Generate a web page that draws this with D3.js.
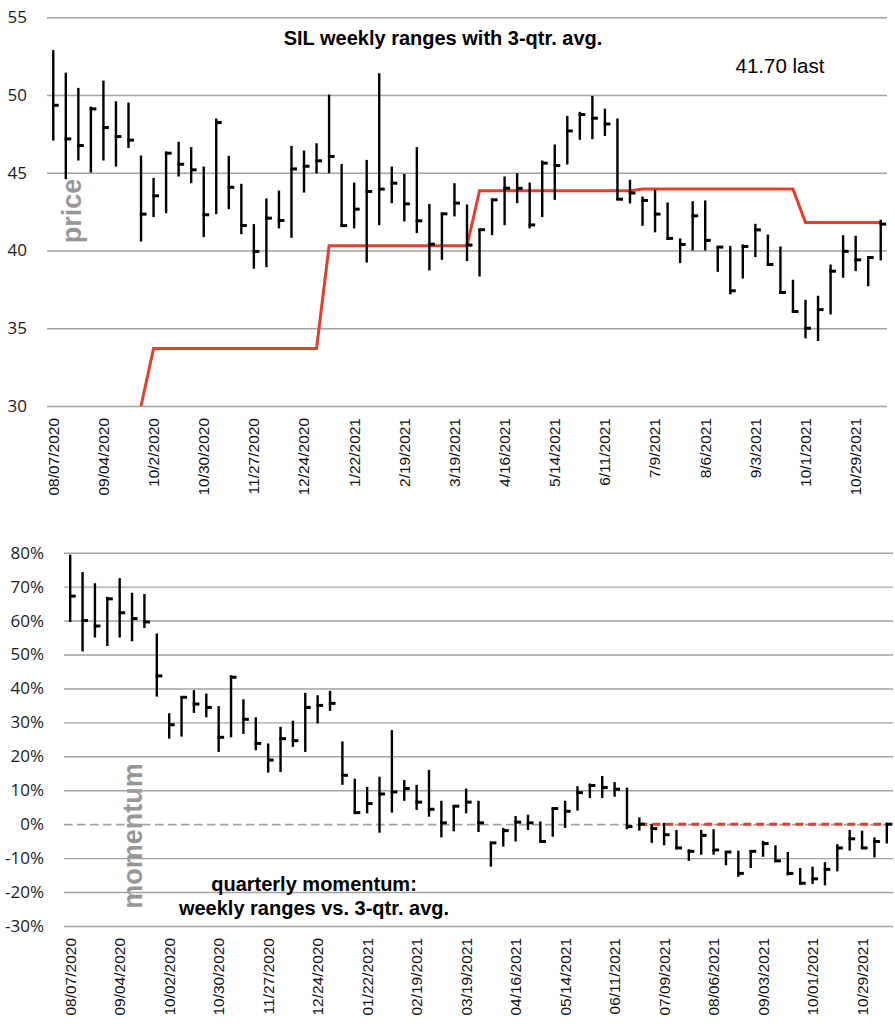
<!DOCTYPE html>
<html>
<head>
<meta charset="utf-8">
<script src="https://cdnjs.cloudflare.com/ajax/libs/d3/7.8.5/d3.min.js"></script>
<style>
  body { margin: 0; background: #fff; }
  svg { display: block; }
</style>
</head>
<body>
<svg id="chart" width="895" height="1024"></svg>
<script>
// weekly bars, 08/07/2020 .. 11/12/2021
var priceHigh = [52.9,51.44,50.46,49.26,50.93,49.6,49.52,46.11,44.67,46.37,
  46.99,46.65,45.4,48.49,46.09,44.29,41.7,43.35,43.86,46.73,
  46.43,46.9,50.03,45.57,44.37,45.83,51.4,45.4,44.93,46.65,
  43.0,42.4,44.33,42.96,41.38,43.35,44.76,44.97,44.37,45.79,
  46.82,48.66,48.92,49.94,49.13,48.49,44.55,43.47,43.9,43.09,
  40.78,43.17,43.22,40.26,40.3,40.39,41.72,41.03,40.26,38.12,
  36.83,37.09,39.1,40.99,40.95,39.62,41.98];
var priceLow = [47.07,44.59,45.79,45.02,45.79,45.4,46.6,40.58,42.15,42.4,
  44.76,44.33,40.86,42.34,42.66,41.05,38.83,38.93,41.42,40.82,
  43.73,44.97,44.97,41.55,41.42,39.23,41.63,43.05,41.87,41.12,
  38.72,39.4,42.19,39.32,38.33,40.99,41.63,43.05,41.42,42.15,
  43.26,45.53,47.12,47.16,47.37,43.26,43.03,41.59,41.17,40.69,
  39.19,40.0,40.0,38.63,37.18,38.2,39.58,39.06,37.22,36.02,
  34.35,34.18,35.89,38.25,38.68,37.7,39.36];
var priceClose = [49.34,47.18,46.75,49.11,47.91,47.33,47.1,42.34,43.52,46.26,
  45.55,45.19,42.3,48.23,44.07,41.61,39.94,42.08,41.93,45.25,
  45.42,45.77,46.05,41.6,42.66,43.8,43.95,44.33,43.0,41.91,
  40.41,42.36,43.05,40.35,41.34,43.26,44.01,44.0,41.65,45.62,
  45.47,47.69,48.75,48.51,48.14,43.3,43.7,43.22,42.34,40.78,
  40.39,42.23,40.65,40.22,37.41,40.26,41.33,39.1,37.3,36.08,
  35.0,36.2,38.67,39.95,39.4,39.55,41.7];
var avg3q = [null,null,null,null,null,null,null,30,33.7,33.7,
  33.7,33.7,33.7,33.7,33.7,33.7,33.7,33.7,33.7,33.7,
  33.7,33.7,40.3,40.3,40.3,40.3,40.3,40.3,40.3,40.3,
  40.3,40.3,40.3,40.3,43.85,43.85,43.85,43.85,43.85,43.85,
  43.85,43.85,43.85,43.85,43.85,43.85,43.85,43.95,43.95,43.95,
  43.95,43.95,43.95,43.95,43.95,43.95,43.95,43.95,43.95,43.95,
  41.8,41.8,41.8,41.8,41.8,41.8,41.8];

// momentum in percent
var momHigh = [79.4,74.3,71.0,67.0,72.5,68.2,67.8,56.2,32.7,37.6,
  39.5,38.5,34.8,43.9,36.8,31.5,23.8,28.7,30.5,38.7,
  38.0,39.3,24.4,13.4,11.0,14.0,27.7,13.0,11.6,16.0,
  6.9,5.5,10.5,6.9,-5.3,-1.1,2.4,2.8,0.8,4.8,
  6.9,11.2,12.0,14.2,12.4,10.8,2.0,0.0,0.4,-1.7,
  -7.4,-1.7,-1.5,-8.0,-7.8,-7.6,-4.9,-6.2,-8.2,-12.9,
  -12.5,-11.2,-5.9,-1.7,-1.9,-3.9,0.4];
var momLow = [59.6,50.9,55.0,52.5,55.0,53.9,57.8,37.6,25.2,25.8,
  32.8,31.5,21.3,25.6,26.6,21.8,15.2,15.4,22.8,21.3,
  29.7,33.4,11.6,3.2,3.2,-2.5,3.4,6.9,4.2,2.2,
  -3.9,-2.1,3.2,-2.3,-12.5,-6.6,-5.1,-1.7,-5.3,-3.7,
  -1.1,4.0,7.7,7.7,8.1,-1.5,-1.9,-5.5,-6.2,-7.4,
  -10.8,-9.0,-9.0,-12.1,-15.5,-12.9,-9.6,-11.2,-15.1,-17.8,
  -17.6,-18.0,-13.9,-7.8,-7.2,-9.8,-5.7];
var momClose = [67.2,60.0,58.4,66.4,62.3,60.6,59.6,43.7,29.3,37.4,
  35.4,34.4,25.6,43.3,30.9,23.8,18.9,25.2,24.6,34.4,
  35.0,35.6,14.4,3.4,6.1,8.9,9.5,10.5,6.5,4.4,
  0.4,5.3,6.5,0.4,-5.5,-1.9,0.6,0.4,-5.1,4.6,
  3.8,9.3,11.4,10.8,10.3,-0.7,0.0,-1.3,-3.1,-7.0,
  -8.0,-3.3,-7.6,-8.2,-14.5,-8.0,-5.7,-10.8,-14.5,-17.4,
  -16.1,-13.3,-7.0,-4.3,-7.0,-5.1,0.0];
var avgMom = [null,null,null,null,null,null,null,null,null,null,
  null,null,null,null,null,null,null,null,null,null,
  null,null,null,null,null,null,null,null,null,null,
  null,null,null,null,null,null,null,null,null,null,
  null,null,null,null,null,null,0,0,0,0,
  0,0,0,0,0,0,0,0,0,0,
  0,0,0,0,0,0,0];

// tick labels, one every 4 weeks
var topTickLabels = ["08/07/2020","09/04/2020","10/2/2020","10/30/2020","11/27/2020","12/24/2020",
  "1/22/2021","2/19/2021","3/19/2021","4/16/2021","5/14/2021","6/11/2021","7/9/2021",
  "8/6/2021","9/3/2021","10/1/2021","10/29/2021"];
var bottomTickLabels = ["08/07/2020","09/04/2020","10/02/2020","10/30/2020","11/27/2020","12/24/2020",
  "01/22/2021","02/19/2021","03/19/2021","04/16/2021","05/14/2021","06/11/2021","07/09/2021",
  "08/06/2021","09/03/2021","10/01/2021","10/29/2021"];
var priceTicks = [30, 35, 40, 45, 50, 55];
var momTicks = [-30, -20, -10, 0, 10, 20, 30, 40, 50, 60, 70, 80];

var red = "#e2402d";
var gridColor = "#a3a3a3";
var weeks = d3.range(priceHigh.length);
var svg = d3.select("#chart");
var bold = "'Liberation Sans', Arial, sans-serif";

// gray axis names sit under the grid lines
svg.append("text")
    .attr("transform", "translate(81,211)rotate(-90)")
    .attr("text-anchor", "middle")
    .attr("fill", "#969696")
    .style("font-family", bold).style("font-weight", "bold").style("font-size", "27px")
    .text("price");
svg.append("text")
    .attr("transform", "translate(142,836)rotate(-90)")
    .attr("text-anchor", "middle")
    .attr("fill", "#969696")
    .style("font-family", bold).style("font-weight", "bold").style("font-size", "27px")
    .text("momentum");

// draws one panel: grid, y labels, date labels, hi-lo-close bars, red avg line
function drawPanel(opt) {
    var x = d3.scaleBand().domain(weeks).range([opt.left, opt.right]);
    var cx = function (i) { return x(i) + x.bandwidth() / 2; };
    var y = d3.scaleLinear().domain(opt.domain).range([opt.bottom, opt.top]);
    var g = svg.append("g");

    // grid + y labels
    var yAxis = d3.axisLeft(y)
        .tickValues(opt.yTicks)
        .tickSize(-(opt.right - opt.left))
        .tickPadding(20)
        .tickFormat(opt.yFormat);
    var ya = g.append("g").attr("transform", "translate(" + opt.left + ",0)").call(yAxis);
    ya.select(".domain").remove();
    ya.selectAll(".tick line")
        .attr("stroke", gridColor)
        .attr("stroke-width", function (d) { return (opt.dashZero && d === 0) ? 1.8 : 1.4; })
        .attr("stroke-dasharray", function (d) { return (opt.dashZero && d === 0) ? "8.5,4.5" : null; });
    ya.selectAll(".tick text")
        .attr("fill", "#1a1a1a")
        .style("font-family", "'Open Sans', sans-serif")
        .style("font-size", "17px");

    // date labels
    var xAxis = d3.axisBottom(x)
        .tickValues(weeks.filter(function (i) { return i % 4 === 0; }))
        .tickSize(0)
        .tickFormat(function (i) { return opt.xLabels[i / 4]; });
    var xa = g.append("g").attr("transform", "translate(0," + opt.bottom + ")").call(xAxis);
    xa.select(".domain").remove();
    xa.selectAll(".tick text")
        .attr("transform", "rotate(-90)")
        .attr("text-anchor", "end")
        .attr("x", -12)
        .attr("y", 0)
        .attr("dy", "0.35em")
        .attr("fill", "#111")
        .style("font-family", "'Liberation Sans', Arial, sans-serif")
        .style("font-size", "15.5px");

    // red average line
    var line = d3.line()
        .defined(function (d) { return d != null; })
        .x(function (d, i) { return cx(i); })
        .y(function (d) { return y(d); });
    g.append("path")
        .datum(opt.avg)
        .attr("fill", "none")
        .attr("stroke", red)
        .attr("stroke-width", 3)
        .attr("stroke-dasharray", opt.avgDash)
        .attr("d", line);

    // bars
    var bars = g.append("g").selectAll("g").data(weeks).enter().append("g");
    bars.append("line")
        .attr("x1", cx).attr("x2", cx)
        .attr("y1", function (i) { return y(opt.hi[i]); })
        .attr("y2", function (i) { return y(opt.lo[i]); })
        .attr("stroke", "#000")
        .attr("stroke-width", 2.4);
    bars.append("line")
        .attr("x1", function (i) { return cx(i) - 1.2; })
        .attr("x2", function (i) { return cx(i) + 5.5; })
        .attr("y1", function (i) { return y(opt.cl[i]); })
        .attr("y2", function (i) { return y(opt.cl[i]); })
        .attr("stroke", "#000")
        .attr("stroke-width", 3);
    return g;
}

drawPanel({
    left: 47, right: 887, top: 17.3, bottom: 406,
    domain: [30, 55], yTicks: priceTicks, yFormat: d3.format("d"),
    xLabels: topTickLabels,
    hi: priceHigh, lo: priceLow, cl: priceClose,
    avg: avg3q, avgDash: null, dashZero: false
});

drawPanel({
    left: 64, right: 893, top: 552.7, bottom: 926,
    domain: [-30, 80], yTicks: momTicks, yFormat: function (d) { return d + "%"; },
    xLabels: bottomTickLabels,
    hi: momHigh, lo: momLow, cl: momClose,
    avg: avgMom, avgDash: "8,5", dashZero: true
});

// titles
svg.append("text")
    .attr("x", 443).attr("y", 45)
    .attr("text-anchor", "middle")
    .style("font-family", bold).style("font-weight", "bold").style("font-size", "20px")
    .text("SIL weekly ranges with 3-qtr. avg.");
svg.append("text")
    .attr("x", 780).attr("y", 73)
    .attr("text-anchor", "middle")
    .style("font-family", bold).style("font-size", "20.5px")
    .text("41.70 last");
svg.append("text")
    .attr("x", 314).attr("y", 891)
    .attr("text-anchor", "middle")
    .style("font-family", bold).style("font-weight", "bold").style("font-size", "20px")
    .text("quarterly momentum:");
svg.append("text")
    .attr("x", 314).attr("y", 915)
    .attr("text-anchor", "middle")
    .style("font-family", bold).style("font-weight", "bold").style("font-size", "20px")
    .text("weekly ranges vs. 3-qtr. avg.");
</script>
</body>
</html>
